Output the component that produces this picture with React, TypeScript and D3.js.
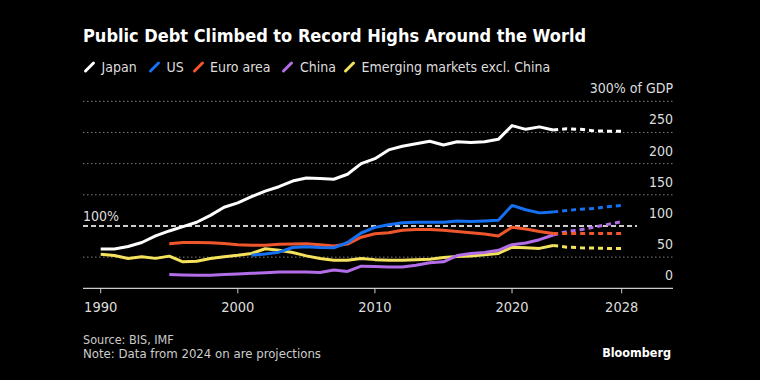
import React from "react";
import * as d3 from "d3";

const solidYearsStart = { japan: 1990, us: 2001, euro: 1995, china: 1995, em: 1990 };
const japan = [63, 63, 67, 73.5, 84, 92, 99, 106, 117, 130, 137, 147, 156, 163, 172, 177, 176, 175, 183, 200, 208, 222, 228, 232, 236, 230, 235, 234, 235, 239, 261, 255, 259, 254];
const us = [53, 55, 58, 65.5, 66.6, 65.5, 65, 73.5, 88.7, 97.7, 102, 105, 106, 106, 106, 108, 107, 108, 109, 133, 126, 121, 122.6];
const euro = [71.5, 73.5, 73.5, 73, 72, 70, 69, 69, 70.5, 71, 71.5, 70, 68, 71, 82, 87.5, 89, 93, 94.5, 94.5, 93, 91, 89, 87, 84, 98, 95, 91, 88];
const china = [22, 21.5, 21, 21, 22, 23, 24, 25, 26, 26, 26, 25.5, 29.5, 27, 35.5, 35, 34, 34, 37, 41, 42.5, 52.6, 56, 57.5, 61, 70, 72.6, 78, 85.5];
const em = [54.8, 52.6, 47.7, 50.5, 48, 51.6, 42.5, 43.5, 47.7, 50.5, 53, 56, 63.4, 61, 57.5, 52, 47.7, 45, 45, 47.7, 46, 45, 45, 46, 46.7, 49.4, 51, 52, 53.7, 56, 66, 65, 64, 68.7];

const projStart = 2023;
const japanProj = [254, 256, 255, 252.5, 252, 252];
const usProj = [122.6, 124.7, 127, 128, 131, 133];
const euroProj = [88, 88, 88, 88, 88, 88];
const chinaProj = [85.5, 91, 94, 98, 102.6, 107];
const emProj = [68.7, 66, 65, 64.5, 64, 64];

const seriesNames = ["Japan", "US", "Euro area", "China", "Emerging markets excl. China"];
const xTicks = [1990, 2000, 2010, 2020, 2028];
const yTicks = [0, 50, 100, 150, 200, 250, 300];

const colors = ["#ffffff", "#1670f2", "#f0562c", "#b36de8", "#f4e25c"];
const FONT = "'DejaVu Sans Condensed', 'DejaVu Sans', sans-serif";

export default function App() {
  const W = 760, H = 380;
  const x = d3.scaleLinear().domain([1990, 2028]).range([100.7, 621.7]);
  const y = d3.scaleLinear().domain([0, 300]).range([288.3, 101.3]);
  const axisLeft = 83, axisRight = 673;

  const solid = [
    { vals: japan, start: solidYearsStart.japan },
    { vals: us, start: solidYearsStart.us },
    { vals: euro, start: solidYearsStart.euro },
    { vals: china, start: solidYearsStart.china },
    { vals: em, start: solidYearsStart.em },
  ];
  const proj = [japanProj, usProj, euroProj, chinaProj, emProj];

  const line = d3.line<[number, number]>().x((d) => x(d[0])).y((d) => y(d[1]));
  const toPts = (vals: number[], start: number): [number, number][] => vals.map((v, i) => [start + i, v]);

  const order = [4, 3, 2, 1, 0];

  const legendGlyphX = [85.5, 150.5, 194.5, 283.5, 345.5];
  const legendTextX = [101.5, 166.5, 210, 300, 361.5];

  return (
    <div style={{ position: "absolute", left: 0, top: 0, width: W, height: H, background: "#000" }}>
      <svg width={W} height={H} style={{ display: "block", fontFamily: FONT }}>
        <rect width={W} height={H} fill="#000" />
        <text x={83} y={42} fill="#fff" fontSize={18} fontWeight="bold" fontFamily="'DejaVu Sans', sans-serif" style={{ fontStretch: "condensed" } as any}>
          Public Debt Climbed to Record Highs Around the World
        </text>
        {seriesNames.map((n, i) => (
          <g key={n}>
            <line x1={legendGlyphX[i]} y1={71} x2={legendGlyphX[i] + 8} y2={63} stroke={colors[i]} strokeWidth={3} strokeLinecap="round" />
            <text x={legendTextX[i]} y={71.5} fill="#ddd" fontSize={14}>{n}</text>
          </g>
        ))}
        {yTicks.map((t) =>
          t === 0 || t === 100 ? null : (
            <line key={t} x1={axisLeft} x2={axisRight} y1={y(t)} y2={y(t)} stroke="#808080" strokeWidth={1} strokeDasharray="1.5,2.5" />
          )
        )}
        {yTicks.map((t) => (
          <text key={"l" + t} x={673} y={y(t) - 8} fill="#ddd" fontSize={14} textAnchor="end">
            {t === 300 ? "300% of GDP" : String(t)}
          </text>
        ))}
        <line x1={axisLeft} x2={637} y1={y(100)} y2={y(100)} stroke="#ccc" strokeWidth={2} strokeDasharray="5,3" />
        <text x={83} y={y(100) - 5} fill="#ddd" fontSize={14}>100%</text>
        <line x1={axisLeft} x2={axisRight} y1={y(0)} y2={y(0)} stroke="#ccc" strokeWidth={1.2} />
        {xTicks.map((t) => (
          <g key={t}>
            <line x1={x(t)} x2={x(t)} y1={y(0)} y2={y(0) + 5} stroke="#ccc" strokeWidth={1} />
            <text x={x(t)} y={311.5} fill="#ddd" fontSize={14.5} textAnchor="middle">{t}</text>
          </g>
        ))}
        {order.map((i) => (
          <g key={"s" + i}>
            <path d={line(toPts(proj[i], projStart)) || ""} fill="none" stroke={colors[i]} strokeWidth={3} strokeDasharray="5,4" />
            <path d={line(toPts(solid[i].vals, solid[i].start)) || ""} fill="none" stroke={colors[i]} strokeWidth={3} strokeLinejoin="round" />
          </g>
        ))}
        <text x={83} y={343.5} fill="#ccc" fontSize={12.5}>Source: BIS, IMF</text>
        <text x={83} y={358} fill="#ccc" fontSize={12.5} textLength={238} lengthAdjust="spacingAndGlyphs">Note: Data from 2024 on are projections</text>
        <text x={671} y={356.5} fill="#fff" fontSize={12.5} fontWeight="bold" textAnchor="end" fontFamily="'DejaVu Sans', sans-serif" style={{ fontStretch: "condensed" } as any}>Bloomberg</text>
      </svg>
    </div>
  );
}
